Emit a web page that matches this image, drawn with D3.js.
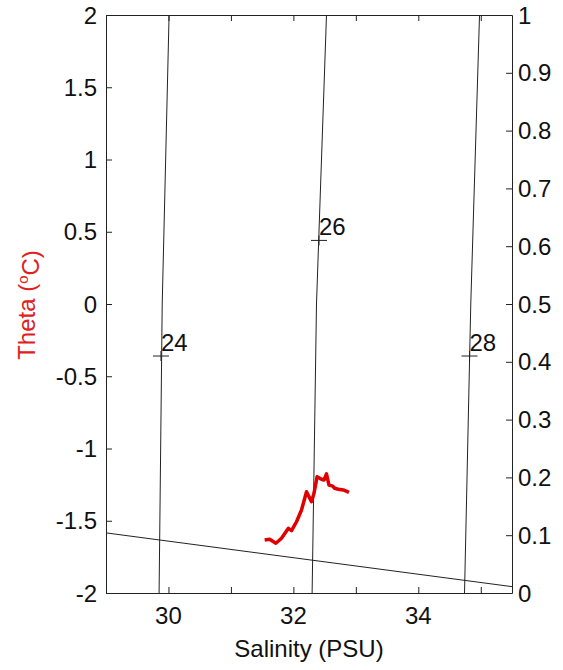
<!DOCTYPE html>
<html>
<head>
<meta charset="utf-8">
<script src="https://cdn.jsdelivr.net/npm/d3@7"></script>
<style>
  body { margin: 0; background: #fff; }
  text { font-family: "Liberation Sans", Arial, sans-serif; }
</style>
</head>
<body>
<div id="canvas"></div>
<script>
// Data
var salinity = [31.54, 31.62, 31.72, 31.81, 31.92, 31.97, 32.05, 32.13, 32.21, 32.25, 32.29, 32.33,
                32.38, 32.45, 32.49, 32.53, 32.57, 32.63, 32.66, 32.72, 32.80, 32.89];
var theta = [-1.633, -1.628, -1.656, -1.621, -1.552, -1.569, -1.507, -1.426, -1.299, -1.334, -1.368, -1.310,
             -1.195, -1.213, -1.218, -1.176, -1.253, -1.260, -1.275, -1.282, -1.287, -1.303];

// sigma-theta contours: salinity at theta = -2, 0, 2
var contourTheta = [-2, 0, 2];
var sigma24 = [29.85, 29.90, 30.01];
var sigma26 = [32.30, 32.37, 32.53];
var sigma28 = [34.74, 34.84, 34.98];
var contourLevels = ["24", "26", "28"];
var labelS = [29.88, 32.41, 34.82];
var labelTheta = [-0.36, 0.44, -0.36];

// line on the right axis
var rightLineS = [29, 35.5];
var rightLineV = [0.104, 0.011];

var xTicks = [30, 31, 32, 33, 34, 35];
var xLabels = [30, 32, 34];
var yTicks = [-2, -1.5, -1, -0.5, 0, 0.5, 1, 1.5, 2];
var y2Ticks = [0, 0.1, 0.2, 0.3, 0.4, 0.5, 0.6, 0.7, 0.8, 0.9, 1];

var w = 563, h = 670;
var margin = {top: 15, right: 51, bottom: 77, left: 106};

var svg = d3.select("#canvas").append("svg")
    .attr("width", w)
    .attr("height", h);

var x = d3.scaleLinear().domain([29, 35.5]).range([margin.left, w - margin.right]);
var y = d3.scaleLinear().domain([-2, 2]).range([h - margin.bottom, margin.top]);
var y2 = d3.scaleLinear().domain([0, 1]).range([h - margin.bottom, margin.top]);

var ink = "#222";
var fs = "24px";

// contours
var line = d3.line().x(d => x(d[0])).y(d => y(d[1]));
[sigma24, sigma26, sigma28].forEach(function(s) {
    svg.append("path")
        .attr("d", line(s.map((v, i) => [v, contourTheta[i]])))
        .attr("fill", "none")
        .attr("stroke", ink)
        .attr("stroke-width", 1);
});

// contour labels with + markers
contourLevels.forEach(function(lev, i) {
    var cx = x(labelS[i]), cy = y(labelTheta[i]);
    svg.append("line").attr("x1", cx - 8).attr("x2", cx + 8).attr("y1", cy).attr("y2", cy)
        .attr("stroke", ink).attr("stroke-width", 1);
    svg.append("line").attr("x1", cx).attr("x2", cx).attr("y1", cy - 5).attr("y2", cy + 5)
        .attr("stroke", ink).attr("stroke-width", 1);
    svg.append("text").attr("x", cx).attr("y", cy - 5)
        .style("font-size", fs).attr("fill", "#111").text(lev);
});

// right-axis line
var line2 = d3.line().x(d => x(d[0])).y(d => y2(d[1]));
svg.append("path")
    .attr("d", line2(rightLineS.map((v, i) => [v, rightLineV[i]])))
    .attr("fill", "none").attr("stroke", ink).attr("stroke-width", 1);

// T-S curve
var tsLine = d3.line().x(d => x(d[0])).y(d => y(d[1]));
svg.append("path")
    .attr("d", tsLine(salinity.map((s, i) => [s, theta[i]])))
    .attr("fill", "none")
    .attr("stroke", "#e00000")
    .attr("stroke-width", 3.5)
    .attr("stroke-linejoin", "round");

// axes (ticks pointing in)
var gBottom = svg.append("g")
    .attr("transform", `translate(0,${h - margin.bottom})`)
    .call(d3.axisBottom(x).tickValues(xTicks).tickSizeInner(-6).tickSizeOuter(0).tickFormat(""));
var gTop = svg.append("g")
    .attr("transform", `translate(0,${margin.top})`)
    .call(d3.axisTop(x).tickValues(xTicks).tickSizeInner(-6).tickSizeOuter(0).tickFormat(""));
var gLeft = svg.append("g")
    .attr("transform", `translate(${margin.left},0)`)
    .call(d3.axisLeft(y).tickValues(yTicks).tickSizeInner(-6).tickSizeOuter(0).tickFormat(""));
var gRight = svg.append("g")
    .attr("transform", `translate(${w - margin.right},0)`)
    .call(d3.axisRight(y2).tickValues(y2Ticks).tickSizeInner(-6).tickSizeOuter(0).tickFormat(""));

[gBottom, gTop, gLeft, gRight].forEach(function(g) {
    g.selectAll("path, line").attr("stroke", ink);
});

// tick labels
svg.selectAll(".xlab").data(xLabels).join("text")
    .attr("x", d => x(d)).attr("y", 624)
    .attr("text-anchor", "middle").style("font-size", fs).attr("fill", "#111")
    .text(d => d);

svg.selectAll(".ylab").data(yTicks).join("text")
    .attr("x", 97).attr("y", d => y(d)).attr("dy", "0.36em")
    .attr("text-anchor", "end").style("font-size", fs).attr("fill", "#111")
    .text(d => d);

svg.selectAll(".y2lab").data(y2Ticks).join("text")
    .attr("x", 518).attr("y", d => y2(d)).attr("dy", "0.36em")
    .style("font-size", fs).attr("fill", "#111")
    .text(d => d);

// axis titles
svg.append("text")
    .attr("x", (margin.left + w - margin.right) / 2).attr("y", 657)
    .attr("text-anchor", "middle").style("font-size", fs).attr("fill", "#111")
    .text("Salinity (PSU)");

var yt = svg.append("text")
    .attr("transform", "translate(35,305) rotate(-90)")
    .attr("text-anchor", "middle").style("font-size", fs).attr("fill", "#e02020");
yt.append("tspan").text("Theta (");
yt.append("tspan").attr("dy", "-0.45em").style("font-size", "15px").text("o");
yt.append("tspan").attr("dy", "0.45em").text("C)");
</script>
</body>
</html>
